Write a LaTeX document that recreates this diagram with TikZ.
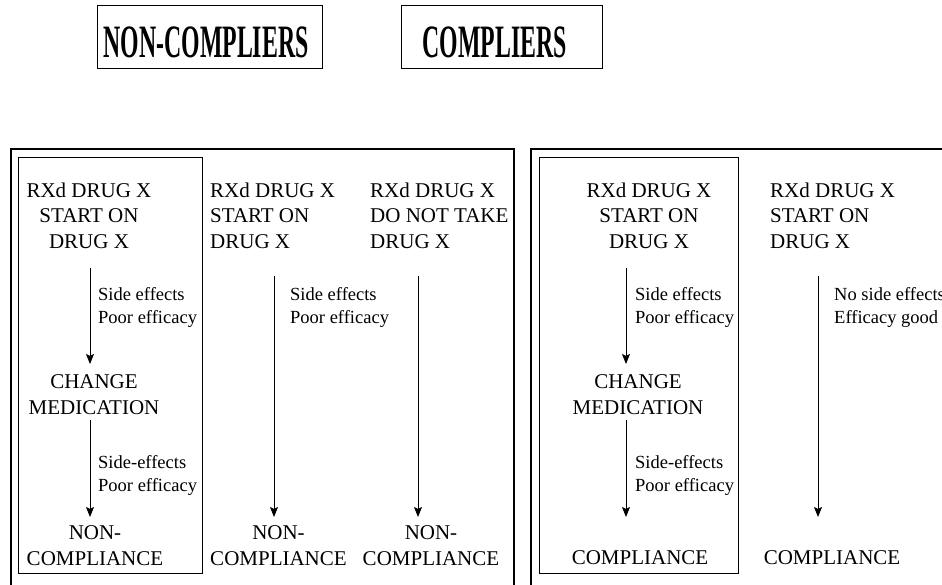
\documentclass[tikz,border=0pt]{standalone}
\usepackage{fontspec}
\setmainfont{Liberation Serif}
\usetikzlibrary{arrows.meta}

\tikzset{
  stage/.style={align=center,inner sep=0pt,font=\fontsize{21}{25.5}\selectfont},
  stageleft/.style={stage,align=left,anchor=west},
  reason/.style={align=left,anchor=west,inner sep=0pt,font=\fontsize{18.5}{23}\selectfont},
  titlebox/.style={draw,line width=1pt,minimum height=63pt,inner sep=0pt},
  titletext/.style={inner sep=0pt,font=\fontsize{23.8}{26}\selectfont\bfseries},
  flow/.style={-{Stealth[length=10pt,width=8pt,inset=2pt]},line width=1pt},
}

\begin{document}
\begin{tikzpicture}[x=1pt,y=-1pt]
  \useasboundingbox (0,0) rectangle (942,584);
  \clip (0,0) rectangle (942,584);

  % headings
  \node[titlebox,minimum width=225pt] (ncbox) at (209.5,36.5) {};
  \node[titletext] (nctitle) at (206,42.5) {\scalebox{1}[1.95]{NON-COMPLIERS}};
  \node[titlebox,minimum width=201pt] (cbox) at (501.5,36.5) {};
  \node[titletext] (ctitle) at (494.5,42.5) {\scalebox{1}[1.95]{COMPLIERS}};

  % frames
  \draw[line width=1.1pt] (11,600) -- (11,149) -- (514,149) -- (514,600);
  \draw[line width=1.1pt] (531,600) -- (531,149) -- (960,149);
  \draw[line width=.9pt] (18,157) rectangle (202,573);
  \draw[line width=.9pt] (539,157) rectangle (738,573);

  % non-compliers
  \node[stage] (nc1top) at (89,215.5) {RXd DRUG X\\START ON\\DRUG X};
  \node[stage] (nc1mid) at (94,394.5) {CHANGE\\MEDICATION};
  \node[stage] (nc1end) at (95,545.5) {NON-\\COMPLIANCE};
  \coordinate (nc1a) at (90,268);
  \coordinate (nc1b) at (90,364);
  \coordinate (nc1c) at (90,420);
  \coordinate (nc1d) at (90,517);
  \draw[flow] (nc1a) -- (nc1b);
  \draw[flow] (nc1c) -- (nc1d);
  \node[reason] (nc1r1) at (98,307) {Side effects\\Poor efficacy};
  \node[reason] (nc1r2) at (98,475) {Side-effects\\Poor efficacy};

  \node[stageleft] (nc2top) at (210,215.5) {RXd DRUG X\\START ON\\DRUG X};
  \node[stage] (nc2end) at (278.5,545.5) {NON-\\COMPLIANCE};
  \coordinate (nc2a) at (274,276);
  \coordinate (nc2b) at (274,517);
  \draw[flow] (nc2a) -- (nc2b);
  \node[reason] (nc2r) at (290,307) {Side effects\\Poor efficacy};

  \node[stageleft] (nc3top) at (370,215.5) {RXd DRUG X\\DO NOT TAKE\\DRUG X};
  \node[stage] (nc3end) at (431,545.5) {NON-\\COMPLIANCE};
  \coordinate (nc3a) at (418,276);
  \coordinate (nc3b) at (418,517);
  \draw[flow] (nc3a) -- (nc3b);

  % compliers
  \node[stage] (c1top) at (649,215.5) {RXd DRUG X\\START ON\\DRUG X};
  \node[stage] (c1mid) at (638,394.5) {CHANGE\\MEDICATION};
  \node[stage] (c1end) at (640,558) {COMPLIANCE};
  \coordinate (c1a) at (626,268);
  \coordinate (c1b) at (626,364);
  \coordinate (c1c) at (626,420);
  \coordinate (c1d) at (626,517);
  \draw[flow] (c1a) -- (c1b);
  \draw[flow] (c1c) -- (c1d);
  \node[reason] (c1r1) at (635,307) {Side effects\\Poor efficacy};
  \node[reason] (c1r2) at (635,475) {Side-effects\\Poor efficacy};

  \node[stageleft] (c2top) at (770,215.5) {RXd DRUG X\\START ON\\DRUG X};
  \node[stage] (c2end) at (832,558) {COMPLIANCE};
  \coordinate (c2a) at (818,276);
  \coordinate (c2b) at (818,517);
  \draw[flow] (c2a) -- (c2b);
  \node[reason] (c2r) at (834,307) {No side effects\\Efficacy good};
\end{tikzpicture}
\end{document}
